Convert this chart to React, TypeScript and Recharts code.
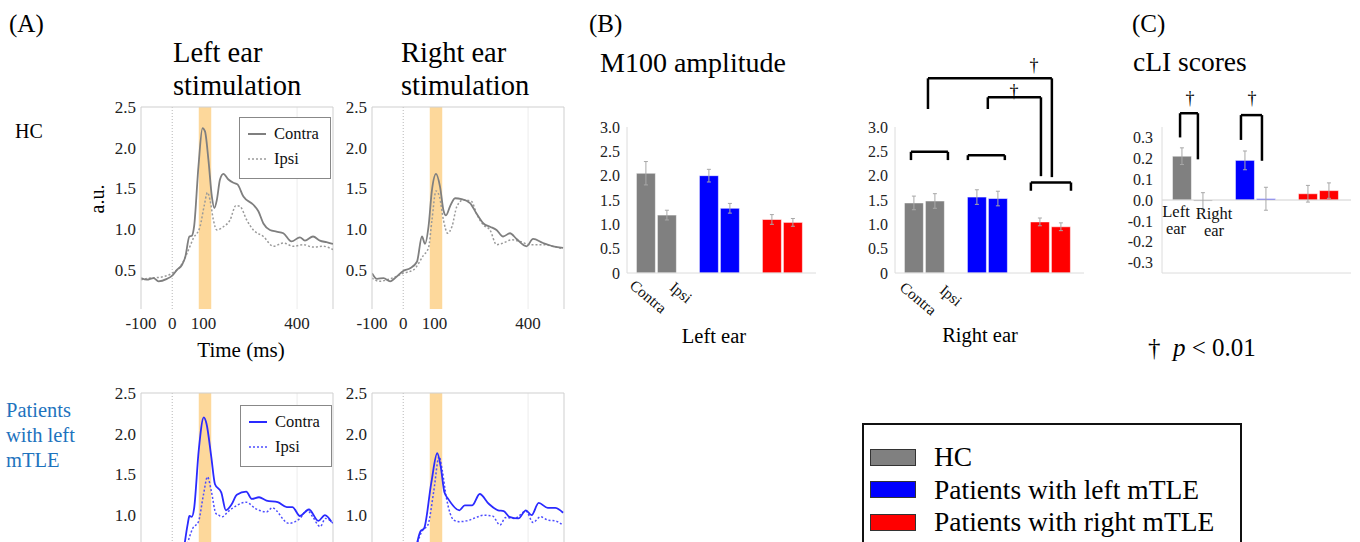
import React from 'react'
import {
  LineChart, Line, XAxis, YAxis, ReferenceArea, ReferenceLine,
  BarChart, Bar, Cell, ErrorBar,
} from 'recharts'

const SERIF = '"Liberation Serif", "Times New Roman", serif'

// ---- (A) evoked responses: [time ms, amplitude a.u.] ----
const hcLeftContra: [number, number][] = [
  [-100, 0.40], [-81, 0.38], [-60, 0.40], [-44, 0.36], [-17, 0.39], [0, 0.43], [15, 0.50], [31, 0.56],
  [42, 0.66], [55, 0.91], [63, 0.92], [70, 1.03], [84, 1.77], [97, 2.24], [105, 2.20], [116, 1.85],
  [127, 1.40], [135, 1.26], [143, 1.36], [153, 1.61], [164, 1.68], [180, 1.61], [196, 1.57], [209, 1.55],
  [228, 1.40], [260, 1.30], [276, 1.22], [292, 1.07], [313, 0.99], [334, 0.97], [356, 0.95], [382, 0.85],
  [409, 0.90], [425, 0.86], [451, 0.91], [473, 0.86], [494, 0.84], [515, 0.82],
]
const hcLeftIpsi: [number, number][] = [
  [-100, 0.38], [-70, 0.40], [-38, 0.41], [0, 0.46], [26, 0.54], [47, 0.70], [68, 0.89], [89, 1.03],
  [102, 1.28], [113, 1.45], [121, 1.36], [132, 1.11], [143, 0.99], [164, 1.03], [185, 1.11], [204, 1.29],
  [217, 1.28], [239, 1.11], [260, 0.99], [292, 0.91], [324, 0.79], [356, 0.83], [388, 0.79], [420, 0.81],
  [451, 0.78], [483, 0.79], [515, 0.75],
]
const hcRightContra: [number, number][] = [
  [-100, 0.46], [-84, 0.39], [-63, 0.40], [-42, 0.36], [-26, 0.40], [1, 0.49], [22, 0.52], [44, 0.60],
  [60, 0.91], [70, 0.82], [81, 1.03], [92, 1.48], [105, 1.68], [118, 1.52], [129, 1.23], [137, 1.17],
  [150, 1.28], [166, 1.38], [187, 1.37], [214, 1.32], [235, 1.19], [257, 1.07], [278, 1.03], [299, 0.99],
  [320, 0.91], [342, 0.95], [363, 0.88], [395, 0.79], [416, 0.88], [448, 0.83], [480, 0.79], [512, 0.77],
]
const hcRightIpsi: [number, number][] = [
  [-100, 0.40], [-77, 0.36], [-42, 0.39], [1, 0.46], [33, 0.50], [65, 0.68], [81, 0.77], [92, 1.11],
  [105, 1.47], [116, 1.40], [129, 1.11], [142, 0.95], [156, 1.03], [172, 1.28], [193, 1.36], [219, 1.34],
  [235, 1.19], [257, 1.05], [278, 0.99], [299, 0.81], [320, 0.83], [347, 0.87], [374, 0.85], [406, 0.81],
  [448, 0.81], [480, 0.79], [512, 0.76],
]
const lmLeftContra: [number, number][] = [
  [38, 0.60], [50, 0.90], [55, 0.99], [63, 0.98], [70, 1.08], [85, 1.80], [101, 2.20], [110, 2.12],
  [125, 1.72], [137, 1.38], [157, 1.28], [172, 1.06], [190, 1.13], [207, 1.25], [237, 1.29], [255, 1.20],
  [278, 1.22], [302, 1.18], [338, 1.16], [367, 1.10], [385, 1.10], [409, 0.99], [438, 1.07], [468, 0.93],
  [489, 1.00], [510, 0.92],
]
const lmLeftIpsi: [number, number][] = [
  [45, 0.60], [66, 0.84], [84, 0.92], [100, 1.25], [113, 1.47], [125, 1.30], [140, 1.02], [149, 1.00],
  [160, 0.98], [178, 1.04], [207, 1.12], [237, 1.16], [267, 1.08], [302, 1.04], [320, 1.09], [373, 0.90],
  [409, 0.96], [432, 1.06], [450, 0.98], [474, 0.86], [491, 0.96], [515, 0.90],
]
const lmRightContra: [number, number][] = [
  [44, 0.65], [55, 0.80], [67, 0.84], [90, 1.40], [109, 1.76], [120, 1.60], [132, 1.28], [144, 1.20],
  [180, 1.06], [197, 1.12], [221, 1.12], [245, 1.26], [274, 1.14], [304, 1.06], [322, 1.05], [340, 0.98],
  [369, 0.96], [393, 1.06], [411, 1.00], [434, 1.15], [463, 1.09], [487, 1.09], [512, 1.03],
]
const lmRightIpsi: [number, number][] = [
  [42, 0.62], [61, 0.81], [79, 0.88], [98, 1.30], [115, 1.72], [125, 1.55], [138, 1.22], [162, 0.94],
  [180, 0.92], [203, 0.93], [239, 0.98], [256, 1.00], [286, 0.99], [310, 0.88], [328, 0.97], [357, 0.96],
  [393, 1.05], [416, 0.91], [440, 0.98], [463, 0.94], [487, 0.93], [511, 0.88],
]
const timeTicks = [-100, 0, 100, 400]
const ampTicks = [0.5, 1, 1.5, 2, 2.5]
const ampTicksCropped = [1, 1.5, 2, 2.5] // lower row is cut by the page edge
const m100Window = [85, 125]

// ---- (B) M100 amplitude, groups: HC, left mTLE, right mTLE ----
const groupNames = ['HC', 'Patients with left mTLE', 'Patients with right mTLE']
const groupColors = ['#808080', '#0000ff', '#ff0000']
const leftEarContra = [2.05, 2.0, 1.10]
const leftEarIpsi = [1.19, 1.33, 1.04]
const leftEarContraErr = [0.24, 0.13, 0.10]
const leftEarIpsiErr = [0.10, 0.10, 0.08]
const rightEarContra = [1.44, 1.56, 1.05]
const rightEarIpsi = [1.48, 1.53, 0.95]
const rightEarContraErr = [0.14, 0.15, 0.08]
const rightEarIpsiErr = [0.15, 0.15, 0.08]
const m100Ticks = [0, 0.5, 1, 1.5, 2, 2.5, 3]

// ---- (C) cLI scores ----
const cliLeftEar = [0.21, 0.19, 0.03]
const cliRightEar = [-0.005, 0.006, 0.045]
const cliLeftErr = [0.04, 0.045, 0.04]
const cliRightErr = [0.04, 0.055, 0.037]
const cliTicks = [-0.3, -0.2, -0.1, 0, 0.1, 0.2, 0.3]

type Row = { x: number; v: number; e: number; c: string }
function buildRows(a: number[], b: number[], ea: number[], eb: number[]): Row[] {
  const rows: Row[] = []
  groupColors.forEach((c, g) => {
    rows.push({ x: g * 3 + 1, v: a[g], e: ea[g], c })
    rows.push({ x: g * 3 + 2, v: b[g], e: eb[g], c })
  })
  return rows
}

// significance brackets in data units: legs at x1 / x2, from y1 / y2 up to top
type Bracket = { x1: number; x2: number; y1: number; y2: number; top: number }
const rightEarBrackets: Bracket[] = [
  { x1: 0.86, x2: 2.62, y1: 2.32, y2: 2.32, top: 2.49 },
  { x1: 3.57, x2: 5.33, y1: 2.32, y2: 2.32, top: 2.42 },
  { x1: 6.57, x2: 8.48, y1: 1.69, y2: 1.69, top: 1.86 },
  { x1: 1.67, x2: 7.57, y1: 3.37, y2: 1.97, top: 4.0 },
  { x1: 4.52, x2: 7.05, y1: 3.37, y2: 1.99, top: 3.61 },
]
const cliBrackets: Bracket[] = [
  { x1: 0.91, x2: 1.76, y1: 0.30, y2: 0.195, top: 0.416 },
  { x1: 3.81, x2: 4.81, y1: 0.288, y2: 0.188, top: 0.407 },
]

const tickStyle = { fill: '#222', fontSize: 17, fontFamily: SERIF }

function Txt({ x, y, size = 20, anchor = 'start', color = '#000', children, style }: any) {
  const tx = anchor === 'middle' ? '-50%' : anchor === 'end' ? '-100%' : '0'
  return (
    <div style={{
      position: 'absolute', left: x, top: y, transform: `translate(${tx}, -50%)`,
      fontSize: size, fontFamily: SERIF, lineHeight: 1.15, whiteSpace: 'nowrap', color, ...style,
    }}>{children}</div>
  )
}

function Erp({ left, top, contra, ipsi, solid, dotted, cropped = false }: any) {
  const pts = (s: [number, number][]) => s.map(([t, v]) => ({ t, v }))
  return (
    <div style={{ position: 'absolute', left: left - 40, top: top - 12 }}>
      <LineChart width={237} height={244} margin={{ top: 12, right: 5, left: 0, bottom: 0 }}>
        <ReferenceArea x1={m100Window[0]} x2={m100Window[1]} fill="#fdd89b" fillOpacity={1} stroke="none" />
        <ReferenceLine x={0} stroke="#b8b8b8" strokeDasharray="1 2" />
        <ReferenceLine x={400} stroke="#ececec" />
        <ReferenceLine y={2.5} stroke="#cfcfcf" />
        <ReferenceLine x={515} stroke="#cfcfcf" />
        <XAxis type="number" dataKey="t" domain={[-100, 515]} ticks={timeTicks} interval={0}
          axisLine={false} tickLine={false} height={30} tick={cropped ? false : tickStyle} allowDataOverflow />
        <YAxis type="number" domain={[0.02, 2.5]} ticks={cropped ? ampTicksCropped : ampTicks} interval={0}
          tickFormatter={(v: number) => v.toFixed(1)} axisLine={{ stroke: '#cfcfcf' }} tickLine={false}
          tickSize={3} tickMargin={2} width={40} tick={tickStyle} allowDataOverflow />
        <Line data={pts(ipsi)} dataKey="v" type="monotone" stroke={dotted} strokeWidth={1.5}
          strokeDasharray="2 2" dot={false} isAnimationActive={false} />
        <Line data={pts(contra)} dataKey="v" type="monotone" stroke={solid} strokeWidth={1.8}
          dot={false} isAnimationActive={false} />
      </LineChart>
    </div>
  )
}

function ErpLegend({ left, top, solid, dotted }: any) {
  const row = (y: number, label: string, dash?: string, color?: string) => (
    <div style={{ position: 'absolute', left: 8, top: y, display: 'flex', alignItems: 'center', transform: 'translateY(-50%)' }}>
      <svg width={18} height={6}><line x1={0} y1={3} x2={18} y2={3} stroke={color} strokeWidth={dash ? 1.5 : 2} strokeDasharray={dash} /></svg>
      <span style={{ marginLeft: 8, fontSize: 16.5, fontFamily: SERIF, color: '#111' }}>{label}</span>
    </div>
  )
  return (
    <div style={{ position: 'absolute', left, top, width: 90, height: 60, border: '1px solid #888', background: '#fff' }}>
      {row(16, 'Contra', undefined, solid)}
      {row(41, 'Ipsi', '2 2', dotted)}
    </div>
  )
}

function BarPanel({ left, rows, domain, yDomain, ticks, fmt, padTop, brackets = [], zero = false, gap = 6 }: any) {
  const W = 189, H = 146, YW = 40
  const seg = (b: Bracket, i: number) => [
    <ReferenceLine key={`l${i}`} segment={[{ x: b.x1, y: b.y1 }, { x: b.x1, y: b.top }]} stroke="#000" strokeWidth={2.5} ifOverflow="visible" />,
    <ReferenceLine key={`t${i}`} segment={[{ x: b.x1, y: b.top }, { x: b.x2, y: b.top }]} stroke="#000" strokeWidth={2.5} ifOverflow="visible" />,
    <ReferenceLine key={`r${i}`} segment={[{ x: b.x2, y: b.top }, { x: b.x2, y: b.y2 }]} stroke="#000" strokeWidth={2.5} ifOverflow="visible" />,
  ]
  return (
    <div style={{ position: 'absolute', left: left - YW, top: 127 - padTop }}>
      <BarChart width={YW + W + 6} height={padTop + H + 12} data={rows}
        margin={{ top: padTop, right: 6, left: 0, bottom: 0 }}>
        <XAxis type="number" dataKey="x" domain={domain} axisLine={{ stroke: '#dcdcdc' }} tick={false}
          tickLine={false} height={12} allowDataOverflow />
        <YAxis type="number" domain={yDomain} ticks={ticks} interval={0} tickFormatter={fmt}
          axisLine={{ stroke: '#dcdcdc' }} tickLine={false} tickSize={gap} tickMargin={0} width={YW}
          tick={{ ...tickStyle, fontSize: 16 }} allowDataOverflow />
        {zero && <ReferenceLine y={0} stroke="#d0d0d0" />}
        <Bar dataKey="v" barSize={19} stroke="#ffffff" strokeOpacity={0.55} strokeWidth={1} isAnimationActive={false}>
          {rows.map((r: Row, i: number) => <Cell key={i} fill={r.c} />)}
          <ErrorBar dataKey="e" width={2} stroke="#a8a8a8" strokeWidth={1} />
        </Bar>
        {brackets.flatMap(seg)}
      </BarChart>
    </div>
  )
}

function Rot({ x, y, children }: any) {
  return (
    <div style={{
      position: 'absolute', left: x, top: y, transform: 'rotate(40deg)', transformOrigin: '0 0',
      fontSize: 15.5, lineHeight: '15px', fontFamily: SERIF, color: '#111', whiteSpace: 'nowrap',
    }}>{children}</div>
  )
}

export default function App() {
  const m100Fmt = (v: number) => (v === 0 ? '0' : v.toFixed(1))
  const cliFmt = (v: number) => v.toFixed(1)
  const title = { position: 'absolute' as const, fontSize: 28.5, lineHeight: '33px', fontFamily: SERIF, color: '#000' }
  const earLbl = { position: 'absolute' as const, transform: 'translateX(-50%)', textAlign: 'center' as const, fontSize: 16.5, lineHeight: '17px', fontFamily: SERIF, color: '#111' }
  return (
    <div style={{ position: 'absolute', left: 0, top: 0, width: 1360, height: 542, overflow: 'hidden', background: '#fff' }}>
      {/* (A) */}
      <Txt x={9} y={24} size={25}>(A)</Txt>
      <div style={{ ...title, left: 173, top: 36 }}>Left ear<br />stimulation</div>
      <div style={{ ...title, left: 401, top: 36 }}>Right ear<br />stimulation</div>
      <Txt x={15} y={131} size={20}>HC</Txt>
      <Txt x={97} y={199} size={20} anchor="middle" style={{ transform: 'translate(-50%, -50%) rotate(-90deg)' }}>a.u.</Txt>
      <Txt x={241} y={350} size={21} anchor="middle">Time (ms)</Txt>
      <div style={{ position: 'absolute', left: 6, top: 398, fontSize: 20.5, lineHeight: '25px', fontFamily: SERIF, color: '#1e73be' }}>
        Patients<br />with left<br />mTLE
      </div>

      <Erp left={141} top={107} contra={hcLeftContra} ipsi={hcLeftIpsi} solid="#7f7f7f" dotted="#9a9a9a" />
      <Erp left={372} top={107} contra={hcRightContra} ipsi={hcRightIpsi} solid="#7f7f7f" dotted="#9a9a9a" />
      <Erp left={141} top={393} contra={lmLeftContra} ipsi={lmLeftIpsi} solid="#2a2aff" dotted="#4d4dff" cropped />
      <Erp left={372} top={393} contra={lmRightContra} ipsi={lmRightIpsi} solid="#2a2aff" dotted="#4d4dff" cropped />
      <ErpLegend left={239} top={117} solid="#7f7f7f" dotted="#9a9a9a" />
      <ErpLegend left={240} top={405} solid="#2a2aff" dotted="#4d4dff" />

      {/* (B) */}
      <Txt x={589} y={24} size={25}>(B)</Txt>
      <Txt x={600} y={63} size={28}>M100 amplitude</Txt>
      <BarPanel left={627} rows={buildRows(leftEarContra, leftEarIpsi, leftEarContraErr, leftEarIpsiErr)}
        domain={[0.1, 9.1]} yDomain={[0, 3]} ticks={m100Ticks} fmt={m100Fmt} padTop={10} gap={7} />
      <BarPanel left={895} rows={buildRows(rightEarContra, rightEarIpsi, rightEarContraErr, rightEarIpsiErr)}
        domain={[0.1, 9.1]} yDomain={[0, 3]} ticks={m100Ticks} fmt={m100Fmt} padTop={60} gap={7}
        brackets={rightEarBrackets} />
      <Rot x={637} y={277}>Contra</Rot>
      <Rot x={677} y={279}>Ipsi</Rot>
      <Rot x={907} y={279}>Contra</Rot>
      <Rot x={947} y={282}>Ipsi</Rot>
      <Txt x={714} y={337} size={20.5} anchor="middle">Left ear</Txt>
      <Txt x={980} y={336} size={20.5} anchor="middle">Right ear</Txt>
      <Txt x={1034} y={65} size={18} anchor="middle">†</Txt>
      <Txt x={1014} y={91} size={18} anchor="middle">†</Txt>

      {/* (C) */}
      <Txt x={1132} y={24} size={25}>(C)</Txt>
      <Txt x={1133} y={62} size={27.5}>cLI scores</Txt>
      <BarPanel left={1162} rows={buildRows(cliLeftEar, cliRightEar, cliLeftErr, cliRightErr)}
        domain={[0.05, 9.05]} yDomain={[-0.35, 0.35]} ticks={cliTicks} fmt={cliFmt} padTop={40} gap={9}
        brackets={cliBrackets} zero />
      <div style={{ ...earLbl, left: 1176, top: 203 }}>Left<br />ear</div>
      <div style={{ ...earLbl, left: 1214, top: 205 }}>Right<br />ear</div>
      <Txt x={1190} y={98} size={18} anchor="middle">†</Txt>
      <Txt x={1252} y={98} size={18} anchor="middle">†</Txt>
      <Txt x={1148} y={348} size={25}>† &nbsp;<i>p</i> &lt; 0.01</Txt>

      {/* group legend */}
      <div style={{ position: 'absolute', left: 862, top: 423, width: 376, height: 140, border: '2px solid #111', background: '#fff' }}>
        {groupNames.map((name, i) => (
          <div key={name} style={{ position: 'absolute', left: 6, top: 32 + i * 32.5, display: 'flex', alignItems: 'center', transform: 'translateY(-50%)' }}>
            <div style={{ width: 44, height: 15, background: groupColors[i], border: '1px solid #333' }} />
            <span style={{ marginLeft: 18, fontSize: 27.5, fontFamily: SERIF, color: '#000', whiteSpace: 'nowrap' }}>{name}</span>
          </div>
        ))}
      </div>
    </div>
  )
}
